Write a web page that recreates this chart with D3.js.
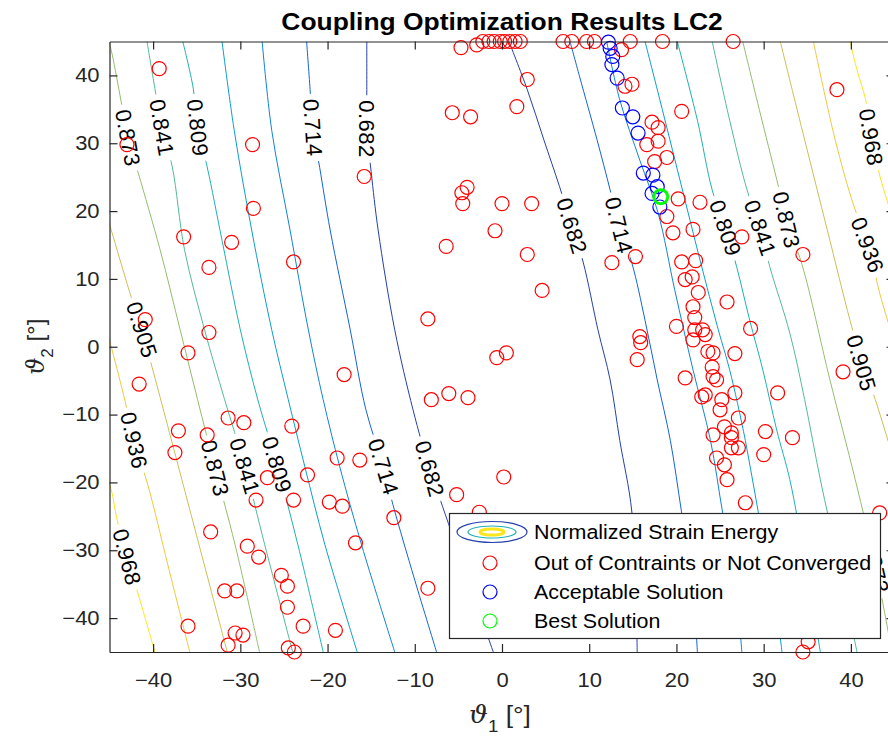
<!DOCTYPE html>
<html>
<head>
<meta charset="utf-8">
<script src="https://cdn.jsdelivr.net/npm/d3@7"></script>
<style>
  body { margin: 0; background: #fff; }
  text { font-family: "Liberation Sans", Arial, sans-serif; fill: #262626; }
</style>
</head>
<body>
<div id="chart"></div>
<script>
// contour levels of the normalized strain energy
const levels = [0.682, 0.714, 0.746, 0.777, 0.809, 0.841, 0.873, 0.905, 0.936, 0.968];

// contour lines, points are [theta1, theta2] in degrees
const contourLines = [
  {level: 0.968, pts: [[-45.5,-18.2],[-44.7,-21.6],[-44.2,-25.1],[-43.0,-31.0],[-41.5,-37.4],[-39.8,-45]]},
  {level: 0.968, pts: [[39.9,45],[40.7,40.8],[41.7,36.4],[42.4,30.9],[43.3,25.3],[45.6,15.7]]},
  {level: 0.936, pts: [[-45.5,3.2],[-44.7,-0.5],[-43.2,-8.1],[-42.2,-13.8],[-40.6,-20.4],[-38.3,-32.2],[-35.8,-45]]},
  {level: 0.936, pts: [[35.7,45],[38.2,30.5],[40.3,20.9],[42.0,15.0],[43.3,7.9],[45.6,-1.9]]},
  {level: 0.905, pts: [[-45.5,20.2],[-44.8,17.2],[-42.7,8.1],[-41.3,2.5],[-40.1,-3.1],[-36.7,-19.6],[-31.5,-45]]},
  {level: 0.905, pts: [[31.9,45],[34.7,30.5],[37.3,17.2],[39.9,3.9],[41.3,-2.4],[42.8,-7.8],[45.6,-19.6]]},
  {level: 0.873, pts: [[-45.1,45],[-44.8,43.7],[-43.8,37.1],[-42.9,30.8],[-41.7,25.6],[-39.2,14.3],[-36.9,2.5],[-34.9,-7.8],[-32.9,-17.9],[-30.6,-29.2],[-27.8,-45]]},
  {level: 0.873, pts: [[27.6,45],[29.8,33.4],[31.7,23.6],[32.6,18.7],[34.4,12.1],[37.6,-4.9],[40.5,-19.6],[42.8,-32.2],[44.7,-45]]},
  {level: 0.841, pts: [[-40.7,45],[-39.8,38.1],[-39.0,32.3],[-37.8,26.5],[-36.4,14.3],[-34.1,2.5],[-31.8,-7.8],[-29.5,-17.6],[-27.2,-29.2],[-24.0,-45]]},
  {level: 0.841, pts: [[24.1,45],[26.1,33.4],[28.1,23.1],[29.6,17.5],[30.7,11.8],[33.0,2.0],[34.7,-7.8],[36.5,-19.6],[38.5,-31.4],[40.7,-45]]},
  {level: 0.809, pts: [[-36.6,45],[-35.4,38.1],[-34.9,32.3],[-33.8,26.5],[-32.1,15.7],[-30.0,2.5],[-28.0,-7.8],[-25.8,-17.4],[-23.4,-29.2],[-20.5,-45]]},
  {level: 0.809, pts: [[20.1,45],[22.4,33.4],[24.1,23.1],[25.6,17.5],[26.9,11.8],[28.4,3.9],[29.9,-3.4],[31.5,-12.3],[33.0,-19.6],[34.7,-31.4],[36.5,-45]]},
  {level: 0.777, pts: [[-32.1,45],[-30.7,31.9],[-28.7,17.2],[-26.4,2.5],[-24.5,-7.8],[-22.6,-17.7],[-20.3,-29.2],[-16.6,-45]]},
  {level: 0.777, pts: [[16.4,45],[18.1,36.4],[20.4,24.6],[22.7,12.8],[24.8,2.5],[26.1,-3.4],[27.9,-13.8],[29.4,-24.5],[31.0,-34.4],[32.1,-45]]},
  {level: 0.746, pts: [[-27.5,45],[-26.4,31.9],[-24.3,17.2],[-22.2,2.5],[-20.5,-7.8],[-18.6,-17.7],[-16.1,-29.2],[-12.3,-45]]},
  {level: 0.746, pts: [[12.0,45],[13.5,36.4],[15.8,27.5],[17.9,19.7],[19.8,8.4],[21.9,-3.4],[23.9,-13.8],[25.3,-24.5],[26.7,-34.4],[27.5,-45]]},
  {level: 0.714, pts: [[-22.4,45],[-22.0,37.9],[-21.7,32.3],[-20.9,26.4],[-19.7,17.2],[-17.4,2.5],[-15.6,-9.3],[-13.6,-17.7],[-12.5,-23.3],[-10.0,-34.4],[-7.5,-45]]},
  {level: 0.714, pts: [[7.8,45],[8.9,39.8],[10.9,30.5],[12.4,23.1],[13.4,17.9],[14.9,12.3],[16.4,3.9],[17.8,-4.9],[19.3,-13.8],[20.6,-24.5],[21.8,-34.4],[22.4,-45]]},
  {level: 0.682, pts: [[-15.5,45],[-15.5,37.9],[-15.5,32.1],[-15.0,25.8],[-14.2,17.2],[-12.3,2.5],[-10.2,-9.3],[-8.3,-18.0],[-6.8,-23.6],[-3.9,-34.4],[-1.0,-45]]},
  {level: 0.682, pts: [[0.8,45],[2.9,37.9],[4.8,30.5],[6.6,23.6],[8.0,17.8],[9.3,12.5],[11.0,2.5],[12.4,-4.9],[13.5,-13.8],[14.9,-24.5],[15.5,-45]]}
];

// inline contour labels: [level, theta1, theta2]
const contourLabels = [
  [0.873,-42.9,30.8],[0.841,-39.0,32.3],[0.809,-34.9,32.3],[0.714,-21.7,32.3],[0.682,-15.5,32.1],
  [0.905,-41.3,2.5],[0.936,-42.2,-13.8],[0.968,-43.0,-31.0],[0.873,-32.9,-17.9],[0.841,-29.5,-17.6],
  [0.809,-25.8,-17.4],[0.714,-13.6,-17.7],[0.682,-8.3,-18.0],
  [0.682,8.0,17.8],[0.714,13.4,17.9],[0.809,25.6,17.5],[0.841,29.6,17.5],[0.873,32.6,18.7],
  [0.968,42.3,30.9],[0.936,41.9,15.0],[0.905,41.2,-2.4],[0.873,42.8,-32.2]
];

// optimization runs out of constraints or not converged: [theta1, theta2]
const outOfConstraints = [
  [-39.3,41.0],[-43.0,29.8],[-28.6,29.8],[-28.5,20.4],[-36.5,16.2],[-31.0,15.4],[-33.6,11.7],[-23.9,12.5],
  [-40.9,4.0],[-33.6,2.1],[-36.0,-0.9],[-41.6,-5.5],[-31.4,-10.5],[-29.6,-11.2],[-24.1,-11.7],[-37.1,-12.4],
  [-33.8,-13.0],[-37.5,-15.6],[-26.9,-19.3],[-23.9,-22.6],[-28.2,-22.6],[-33.4,-27.3],[-29.2,-29.4],[-27.9,-31.0],
  [-25.3,-33.7],[-24.6,-35.3],[-24.6,-38.4],[-31.8,-36.0],[-30.4,-36.0],[-36.0,-41.2],[-30.6,-42.2],[-29.7,-42.5],
  [-31.4,-44.0],[-24.5,-44.4],[-23.8,-45],[-22.8,-41.2],[-19.1,-41.8],[-19.8,-22.9],[-18.3,-23.5],[-12.4,-25.2],
  [-16.8,-28.9],[-8.5,-35.6],[-22.3,-18.9],[-18.9,-16.4],[-16.3,-16.7],[-18.1,-4.1],[-15.8,25.1],[-8.5,4.1],
  [-8.1,-7.8],[-6.1,-6.9],[-3.9,-7.5],[-0.6,-1.6],[0.5,-0.9],[4.6,8.3],[0.2,-19.2],[-5.2,-21.8],[-2.6,-24.4],
  [-6.4,14.8],[-0.8,17.1],[0,21.1],[3.4,21.1],[-4.6,22.7],[-4.0,23.5],[-4.5,21.1],[2.9,13.6],[-5.7,34.5],
  [-3.6,33.9],[1.7,35.4],[2.9,39.4],[-4.7,44.1],
  [-2.9,44.5],[-2.2,45],[-1.5,45],[-0.9,45],[-0.2,45],[0.3,45],[0.9,45],[1.5,45],[2.1,45],
  [7.0,45],[8.0,45],[9.7,45],[10.6,45],[14.7,45],[18.4,45],[26.5,45],[13.7,43.8],
  [14.1,38.4],[14.9,38.7],[20.6,34.7],[17.2,33.1],[17.9,32.3],[16.6,29.8],[17.9,30.3],[18.9,27.9],[17.5,27.3],
  [20.2,21.8],[22.7,21.3],[18.9,19.2],[19.6,16.8],[21.9,17.3],[27.5,16.2],[38.4,37.9],
  [12.6,12.4],[15.3,13.3],[20.6,12.5],[22.2,12.7],[21.0,9.9],[21.8,10.3],[22.5,8.0],[21.9,5.9],[22.1,4.3],
  [25.8,6.6],[34.5,13.6],[20.0,3.0],[22.1,2.5],[23.0,2.5],[23.3,1.8],[21.9,1.0],[28.5,2.7],[15.8,1.5],
  [15.9,0.6],[15.5,-1.9],[23.6,-0.7],[24.2,-0.9],[26.7,-1.0],[24.1,-3.0],[24.2,-4.4],[24.6,-4.9],[21.0,-4.6],
  [39.1,-3.7],[22.9,-7.4],[23.3,-7.1],[26.7,-6.8],[25.2,-7.8],[31.6,-6.8],[25.0,-9.3],[27.1,-10.5],[25.5,-11.8],
  [24.2,-13.0],[26.3,-12.7],[26.3,-13.4],[30.2,-12.5],[33.3,-13.4],[26.3,-14.9],[27.1,-14.9],[30.0,-15.9],
  [24.6,-16.4],[25.5,-17.4],[25.8,-19.6],[27.9,-23.0],[43.3,-24.5],[35.1,-43.5],[34.5,-45]
];

// acceptable solutions
const acceptable = [
  [12.2,44.9],[12.4,44.0],[12.7,42.8],[12.6,41.6],[13.2,39.6],[13.8,35.2],[15.0,33.9],
  [15.6,31.5],[16.2,25.6],[17.3,25.3],[17.8,23.6],[17.2,22.6],[18.1,20.6]
];

// best solution
const best = [[18.2,22.1]];

const xTicks = [-40,-30,-20,-10,0,10,20,30,40];
const yTicks = [-40,-30,-20,-10,0,10,20,30,40];
const legendLabels = ["Normalized Strain Energy", "Out of Contraints or Not Converged", "Acceptable Solution", "Best Solution"];

const W = 888, H = 737;
const parula = ["#352a87","#0f5cdd","#1481d6","#06a4ca","#2eb7a4","#87bf77","#d1bb59","#fec832","#f9fb0e"];
const color = d3.scaleSequential(d3.interpolateRgbBasis(parula)).domain([0.665, 0.985]);
const stretch = "scale(1.1,1)";

const svg = d3.select("#chart").append("svg").attr("width", W).attr("height", H);

const x = d3.scaleLinear().domain([-45, 45]).range([109.5, 894.5]);
const y = d3.scaleLinear().domain([-45, 45]).range([652, 41.5]);

const defs = svg.append("defs");
defs.append("clipPath").attr("id", "plotClip")
  .append("rect")
  .attr("x", x(-45)).attr("y", y(45))
  .attr("width", x(45) - x(-45)).attr("height", y(-45) - y(45));

const gapMask = defs.append("mask").attr("id", "labelGaps")
  .attr("maskUnits", "userSpaceOnUse")
  .attr("x", 0).attr("y", 0).attr("width", W).attr("height", H);
gapMask.append("rect").attr("width", W).attr("height", H).attr("fill", "white");

// contour lines
const line = d3.line()
  .x(d => x(d[0]))
  .y(d => y(d[1]))
  .curve(d3.curveCatmullRom);

svg.append("g")
  .attr("mask", "url(#labelGaps)")
  .append("g")
  .attr("clip-path", "url(#plotClip)")
  .selectAll("path")
  .data(contourLines)
  .enter()
  .append("path")
  .attr("d", d => line(d.pts))
  .attr("fill", "none")
  .attr("stroke", d => color(d.level))
  .attr("stroke-width", 1);

// direction of the contour at a label, from the nearest traced segment
const labelAngle = (lv, px, py) => {
  let bestD = Infinity, ang = 90;
  contourLines.filter(c => c.level === lv).forEach(c => {
    for (let i = 0; i < c.pts.length - 1; i++) {
      const ax = x(c.pts[i][0]), ay = y(c.pts[i][1]);
      const bx = x(c.pts[i + 1][0]), by = y(c.pts[i + 1][1]);
      const dx = bx - ax, dy = by - ay;
      const t = Math.max(0, Math.min(1, ((px - ax) * dx + (py - ay) * dy) / (dx * dx + dy * dy)));
      const dd = Math.hypot(ax + t * dx - px, ay + t * dy - py);
      if (dd < bestD) {
        bestD = dd;
        ang = Math.atan2(Math.abs(dy), dy < 0 ? -dx : dx) * 180 / Math.PI;
      }
    }
  });
  return ang;
};

const fmt = d3.format(".3f");
const labelG = svg.append("g");
contourLabels.forEach(([lv, t1, t2]) => {
  const px = x(t1), py = y(t2);
  const a = labelAngle(lv, px, py);
  const txt = labelG.append("text")
    .attr("transform", `translate(${px},${py}) rotate(${a})`)
    .attr("text-anchor", "middle")
    .attr("dy", "0.35em")
    .style("font-size", "22px")
    .style("letter-spacing", "0.5px")
    .style("fill", "#000")
    .text(fmt(lv));
  const len = txt.node().getComputedTextLength();
  gapMask.append("rect")
    .attr("transform", `translate(${px},${py}) rotate(${a})`)
    .attr("x", -len / 2 - 5).attr("y", -9)
    .attr("width", len + 10).attr("height", 18)
    .attr("fill", "black");
});

// scatter markers
const drawPoints = (data, cls, stroke, width) => {
  svg.selectAll(".point." + cls)
    .data(data)
    .enter()
    .append("circle")
    .attr("class", "point " + cls)
    .attr("cx", d => x(d[0]))
    .attr("cy", d => y(d[1]))
    .attr("r", 7)
    .style("fill", "none")
    .style("stroke", stroke)
    .style("stroke-width", width);
};
drawPoints(outOfConstraints, "out", "#ff0000", 1.2);
drawPoints(acceptable, "ok", "#0000ff", 1.2);
drawPoints(best, "best", "#00ff00", 3);

// axes (box with inward ticks)
const styleAxis = g => {
  g.select(".domain").attr("stroke", "#262626").attr("stroke-width", 1.2);
  g.selectAll(".tick line").attr("stroke", "#262626").attr("stroke-width", 1.2);
  g.selectAll(".tick text").style("font-size", "20px").style("fill", "#262626").attr("transform", stretch);
};

svg.append("g")
  .attr("transform", `translate(0,${y(-45)})`)
  .call(d3.axisBottom(x).tickValues(xTicks).tickSizeInner(-8).tickSizeOuter(0).tickPadding(21))
  .call(styleAxis);

svg.append("g")
  .attr("transform", `translate(0,${y(45)})`)
  .call(d3.axisTop(x).tickValues(xTicks).tickSizeInner(-8).tickSizeOuter(0).tickFormat(""))
  .call(styleAxis);

svg.append("g")
  .attr("transform", `translate(${x(-45)},0)`)
  .call(d3.axisLeft(y).tickValues(yTicks).tickSizeInner(-8).tickSizeOuter(0).tickPadding(9))
  .call(styleAxis);

svg.append("g")
  .attr("transform", `translate(${x(45)},0)`)
  .call(d3.axisRight(y).tickValues(yTicks).tickSizeInner(-8).tickSizeOuter(0).tickFormat(""))
  .call(styleAxis);

svg.selectAll(".tick text").attr("font-family", null);

// title
svg.append("text")
  .attr("transform", `translate(${(x(-45) + x(45)) / 2},30) ${stretch}`)
  .attr("text-anchor", "middle")
  .style("font-size", "24px")
  .style("font-weight", "bold")
  .style("fill", "#000")
  .text("Coupling Optimization Results LC2");

// axis labels
const xLab = svg.append("text")
  .attr("transform", `translate(${(x(-45) + x(45)) / 2 - 2},723) ${stretch}`)
  .attr("text-anchor", "middle")
  .style("font-size", "24px");
xLab.append("tspan").style("font-family", "'DejaVu Serif', serif").style("font-style", "italic").text("\u03D1");
xLab.append("tspan").attr("dy", 9).style("font-size", "17px").text("1");
xLab.append("tspan").attr("dy", -9).text(" [°]");

const yLab = svg.append("text")
  .attr("transform", `translate(44,${(y(-45) + y(45)) / 2}) rotate(-90)`)
  .attr("text-anchor", "middle")
  .style("font-size", "24px");
yLab.append("tspan").style("font-family", "'DejaVu Serif', serif").style("font-style", "italic").text("\u03D1");
yLab.append("tspan").attr("dy", 9).style("font-size", "17px").text("2");
yLab.append("tspan").attr("dy", -9).text(" [°]");

// legend
const lg = svg.append("g");
lg.append("rect")
  .attr("x", 449.5).attr("y", 513.5).attr("width", 431).attr("height", 125)
  .attr("fill", "#fff").attr("stroke", "#262626").attr("stroke-width", 1.2);

const iconX = 492, rowY = [532, 563, 592, 621];
[[35, 10.5, 0.682, 1.2], [24, 6, 0.809, 1.2], [12, 3, 0.968, 3]].forEach(([rx, ry, lv, sw]) => {
  lg.append("ellipse")
    .attr("cx", iconX).attr("cy", rowY[0]).attr("rx", rx).attr("ry", ry)
    .attr("fill", "none").attr("stroke", color(lv)).attr("stroke-width", sw);
});
[["#ff0000", 1.2], ["#0000ff", 1.2], ["#00ff00", 1.2]].forEach(([c, sw], i) => {
  lg.append("circle")
    .attr("cx", 490).attr("cy", rowY[i + 1]).attr("r", 7)
    .attr("fill", "none").attr("stroke", c).attr("stroke-width", sw);
});
legendLabels.forEach((t, i) => {
  lg.append("text")
    .attr("transform", `translate(534,${rowY[i] + 7}) ${stretch}`)
    .style("font-size", "19.5px")
    .style("fill", "#000")
    .text(t);
});
</script>
</body>
</html>
